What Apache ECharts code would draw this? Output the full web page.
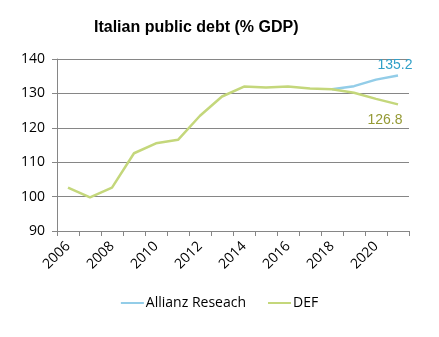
<!DOCTYPE html>
<html><head><meta charset="utf-8">
<script src="https://cdn.jsdelivr.net/npm/echarts@6/dist/echarts.min.js"></script>
<style>html,body{margin:0;padding:0;background:#fff}#c{width:439px;height:337px}</style>
</head><body><div id="c"></div>
<script>
var years = ['2006','2007','2008','2009','2010','2011','2012','2013','2014','2015','2016','2017','2018','2019','2020','2021'];
var allianz = [null,null,null,null,null,null,null,null,null,null,null,null,131.2,132.1,134.0,135.2];
var def = [102.6,99.8,102.6,112.6,115.5,116.5,123.5,129.1,132.0,131.7,132.0,131.4,131.2,130.2,128.4,126.8];
var labelFont = 'Open Sans';
function withEndLabel(arr, pos, offset, color){
  var last = arr.length - 1;
  return arr.map(function(v,i){
    if(i !== last) return v;
    return {value:v,
      label:{show:true, position:pos, distance:4, offset:offset, color:color, fontFamily:'Liberation Sans', fontSize:14, formatter:function(p){return Number(p.value).toFixed(1);}}};
  });
}
var chart = echarts.init(document.getElementById('c'), null, {renderer:'canvas'});
chart.setOption({
  animation:false,
  title:{text:'Italian public debt (% GDP)', left:89, top:15, textStyle:{fontFamily:'Liberation Sans', fontWeight:'bold', fontSize:16, color:'#000'}},
  grid:{left:57, right:30, top:59, bottom:106, containLabel:false},
  legend:{bottom:22, left:'center', itemWidth:23, itemHeight:2, itemGap:22, textStyle:{fontFamily:labelFont, fontSize:14, color:'#000', padding:[0,0,0,-3]},
    data:[{name:'Allianz Reseach', icon:'rect'},{name:'DEF', icon:'rect'}]},
  xAxis:{type:'category', data:years, boundaryGap:true,
    axisLine:{lineStyle:{color:'#868686', width:1}},
    axisTick:{show:true, interval:0, length:5, lineStyle:{color:'#868686'}},
    axisLabel:{interval:1, rotate:45, margin:13, color:'#000', fontFamily:labelFont, fontSize:14}},
  yAxis:{type:'value', min:90, max:140, interval:10,
    axisLine:{show:true, lineStyle:{color:'#868686'}},
    axisTick:{show:true, length:5, lineStyle:{color:'#868686'}},
    splitLine:{lineStyle:{color:'#868686', width:1}},
    axisLabel:{color:'#000', fontFamily:labelFont, fontSize:14, margin:12}},
  series:[
    {name:'Allianz Reseach', type:'line', symbol:'circle', symbolSize:0, showSymbol:true, data:withEndLabel(allianz,'top',[-3,1],'#31a0c8'), lineStyle:{color:'#93cde8', width:2.5}, itemStyle:{color:'#93cde8'}, z:2},
    {name:'DEF', type:'line', symbol:'circle', symbolSize:0, showSymbol:true, data:withEndLabel(def,'bottom',[-13,5],'#959a35'), lineStyle:{color:'#c4d77b', width:2.5}, itemStyle:{color:'#c4d77b'}, z:3}
  ]
});
</script></body></html>
